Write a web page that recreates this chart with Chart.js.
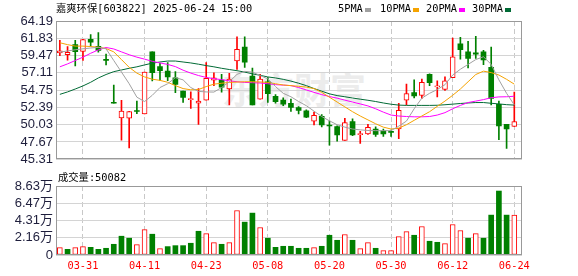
<!DOCTYPE html>
<html><head><meta charset="utf-8">
<script src="https://cdn.jsdelivr.net/npm/chart.js@4.4.1/dist/chart.umd.min.js"></script>
<style>
html,body{margin:0;padding:0;background:#fff;}
#wrap{position:relative;width:578px;height:276px;overflow:hidden;background:#fff;
 font-family:"DejaVu Sans Mono","Noto Sans CJK SC",monospace;}
canvas{position:absolute;left:0;}
.t{position:absolute;white-space:pre;font-size:10.3px;line-height:12px;color:#000;}
.sw{position:absolute;width:6px;height:4px;}
#wm{position:absolute;left:222px;top:68px;font-family:"Noto Sans CJK SC";font-weight:bold;font-size:36px;line-height:40px;color:#ececec;white-space:pre;}
</style></head><body>
<div id="wrap">
<div id="wm">东方财富</div>
<canvas id="k" width="578" height="170" style="top:0"></canvas>
<canvas id="v" width="578" height="106" style="top:170px"></canvas>
<div class="t" style="left:56px;top:2px">嘉爽环保[603822] 2025-06-24 15:00</div>
<div class="t" style="left:338px;top:2px">5PMA</div><div class="sw" style="left:365px;top:8px;background:#a0a0a0"></div>
<div class="t" style="left:380px;top:2px">10PMA</div><div class="sw" style="left:413px;top:8px;background:#f5a300"></div>
<div class="t" style="left:426px;top:2px">20PMA</div><div class="sw" style="left:459px;top:8px;background:#ff00ff"></div>
<div class="t" style="left:472px;top:2px">30PMA</div><div class="sw" style="left:505px;top:8px;background:#006a35"></div>
<div class="t" id="vt" style="left:58px;top:171px"></div>
</div>
<script>
const dates = ['03-26','03-27','03-28','03-31','04-01','04-02','04-03','04-07','04-08','04-09','04-10','04-11','04-14','04-15','04-16','04-17','04-18','04-21','04-22','04-23','04-24','04-25','04-28','04-29','04-30','05-06','05-07','05-08','05-09','05-12','05-13','05-14','05-15','05-16','05-19','05-20','05-21','05-22','05-23','05-26','05-27','05-28','05-29','05-30','06-03','06-04','06-05','06-06','06-09','06-10','06-11','06-12','06-13','06-16','06-17','06-18','06-19','06-20','06-23','06-24'];
const openP  = [59.84,59.58,60.96,60.04,61.69,60.72,58.96,53.03,50.94,50.92, 51.89,51.50,59.97,57.97,57.36,56.44,54.61,53.44,52.95,53.36, 56.11,56.11,54.92,58.75,60.63,56.68,53.51,55.89,53.91,53.38, 52.95,52.37,51.93,50.52,51.18,49.89,49.78,47.89,50.44,48.66, 48.77,49.43,49.20,49.01,49.43,53.38,54.40,54.04,56.90,55.19, 54.83,56.45,61.07,59.97,59.84,59.97,57.86,52.82,50.09,49.78];
const highP  = [61.55,60.70,61.55,61.69,62.35,62.61,59.68,55.45,53.36,51.84, 53.25,57.20,59.97,58.42,58.52,57.27,54.61,54.50,54.96,58.52, 57.11,56.90,57.03,62.04,62.04,57.77,56.90,56.45,54.13,53.69, 53.51,52.50,52.06,51.76,51.41,50.52,49.86,50.88,50.84,49.13, 50.09,49.73,49.43,49.30,52.95,55.58,56.15,56.24,56.98,56.02, 56.55,61.86,61.95,61.42,62.08,60.20,60.63,53.25,50.09,54.48];
const lowP   = [59.45,58.85,58.06,58.79,60.76,59.93,58.19,52.95,47.91,46.86, 51.54,51.50,56.02,56.08,56.04,54.40,53.05,52.26,50.06,53.36, 55.36,54.48,52.72,57.56,57.86,52.72,53.51,53.08,52.95,52.63, 51.84,51.50,50.97,50.00,49.73,47.23,47.76,47.89,48.51,47.45, 48.68,48.41,48.41,48.41,48.11,52.72,53.69,53.61,55.36,53.82, 54.70,56.45,58.96,57.77,59.09,58.22,52.72,47.98,46.79,49.78];
const closeP = [60.10,59.91,60.01,61.66,61.29,60.17,58.79,52.95,51.87,51.80, 51.83,57.20,57.14,57.40,56.55,55.52,53.74,53.47,53.25,56.37, 56.41,55.14,56.24,60.33,58.56,52.72,56.24,54.27,53.16,52.82, 52.37,51.97,51.05,51.31,50.00,49.85,48.64,50.31,48.64,48.70, 49.65,48.68,48.77,48.97,51.97,54.27,53.95,55.82,55.75,55.23, 56.02,59.31,60.28,59.09,59.67,58.88,53.61,49.86,49.43,50.44];
const volumes = [9200,7100,9200,10500,9600,7100,8400,13400,23500,21000, 13000,31800,26000,8000,10500,11700,11700,14700,29700,26800, 15500,13400,15500,55700,41100,52400,34400,21000,9600,10900, 10900,8400,8400,9200,10900,24700,18400,25600,18400,8000, 15500,8400,5400,5400,23000,29300,24700,35600,17200,15900, 14200,38100,30600,21000,26800,21000,49900,80000,49900,50082];
const ma5  = [59.93,60.10,60.26,60.39,60.50,60.59,60.39,58.79,57.21,55.62, 53.78,53.19,54.04,55.10,55.62,56.45,56.15,55.10,54.57,54.50, 54.48,55.10,55.89,56.90,57.31,57.21,56.74,56.28,55.23,54.31, 53.84,53.19,52.62,51.87,51.14,50.55,50.02,49.69,49.43,49.32, 49.23,49.21,49.21,49.21,49.82,50.52,52.20,53.65,54.31,54.83, 55.49,56.81,57.60,58.26,58.92,59.31,58.26,56.15,54.31,52.72];
const ma10 = [61.22,60.96,60.76,60.76,60.70,60.61,60.43,59.97,58.92,57.86, 57.07,56.55,56.24,56.08,55.82,55.36,54.96,54.79,54.83,55.23, 55.56,55.69,55.80,55.85,55.89,55.89,55.86,55.80,55.62,55.45, 55.36,55.27,55.16,54.96,54.44,53.78,53.12,52.46,51.80,51.21, 50.68,50.15,49.69,49.43,49.56,50.02,50.62,51.21,51.80,52.53, 53.25,54.04,54.90,55.89,56.88,57.34,57.14,56.81,56.22,55.56];
const ma20 = [57.93,58.33,58.79,59.25,59.78,60.24,60.57,60.37,59.97,59.58, 59.25,58.98,58.68,58.46,58.26,57.96,57.47,57.07,56.74,56.48, 56.31,56.18,56.02,55.89,55.80,55.76,55.72,55.62,55.49,55.43, 55.36,55.10,54.77,54.44,54.13,53.87,53.65,53.38,53.12,52.86, 52.59,52.20,51.74,51.34,51.21,51.14,51.10,51.10,51.14,51.34, 51.67,52.20,52.66,53.05,53.25,53.45,53.71,53.82,53.84,53.91];
const ma30 = [54.17,54.50,54.90,55.32,55.82,56.41,56.88,57.27,57.50,57.73, 57.93,58.19,58.43,58.59,58.72,58.72,58.59,58.46,58.29,58.10, 57.93,57.73,57.56,57.40,57.21,56.97,56.77,56.55,56.41,56.22, 55.98,55.69,55.36,54.96,54.60,54.24,54.00,53.84,53.67,53.51, 53.36,53.19,52.99,52.82,52.70,52.66,52.66,52.66,52.66,52.68, 52.75,52.83,52.92,52.99,53.05,53.05,52.95,52.86,52.76,52.70];
const priceTicks = [45.31,47.67,50.03,52.39,54.75,57.11,59.47,61.83,64.19];
const volTickValues = [0,21575,43150,64725,86300];
const volTickLabels = ['0','2.16万','4.31万','6.47万','8.63万'];
const dateTickLabels = ['03-31','04-11','04-23','05-08','05-20','05-30','06-12','06-24'];

const RED = '#ff0000', GREEN = '#008000';
const up = openP.map((o,i) => closeP[i] >= o);
const volUp = closeP.map((c,i) => i === 0 ? c >= openP[0] : c >= closeP[i-1]);
const dateTickIdx = dateTickLabels.map(d => dates.indexOf(d));
document.getElementById('vt').textContent = '成交量:' + volumes[volumes.length-1];

const framePlugin = {
  id: 'frame',
  afterDraw(chart) {
    const {ctx, chartArea: a} = chart;
    ctx.save();
    ctx.setLineDash([]);
    ctx.strokeStyle = '#999';
    ctx.lineWidth = 1;
    const x0 = Math.round(a.left) + 0.5, x1 = Math.round(a.right) - 0.5;
    const y0 = Math.round(a.top) + 0.5, y1 = Math.round(a.bottom) - 0.5;
    ctx.strokeRect(x0, y0, x1 - x0, y1 - y0);
    ctx.restore();
  }
};

function xScale(showLabels) {
  return {
    type: 'linear', min: -0.5, max: 60.0, offset: false,
    afterBuildTicks(s) { s.ticks = dateTickIdx.map(v => ({value: v})); },
    ticks: {
      display: showLabels, autoSkip: false, maxRotation: 0, minRotation: 0,
      font: {family: '"DejaVu Sans Mono"', size: 10.3}, color: RED, padding: 5,
      callback: v => dates[v]
    },
    grid: {color: '#c8c8c8', lineWidth: 1, drawTicks: false, offset: false},
    border: {display: false, dash: [5, 3]},
    afterFit(s) { s.height = showLabels ? 21 : 0; }
  };
}

const lineDs = (arr, color) => ({
  type: 'line', data: arr.map((v,i) => ({x: i, y: v})), borderColor: color,
  borderWidth: 1, pointRadius: 0, fill: false, tension: 0, order: 1
});

new Chart(document.getElementById('k'), {
  type: 'bar',
  data: {
    datasets: [
      lineDs(ma5, '#a0a0a0'),
      lineDs(ma10, '#f5a300'),
      lineDs(ma20, '#ff00ff'),
      lineDs(ma30, '#006a35'),
      {
        data: dates.map((d,i) => ({x: i, y: [openP[i], closeP[i]]})),
        backgroundColor: up.map(u => u ? '#ffffff' : GREEN),
        borderColor: up.map(u => u ? RED : GREEN),
        borderWidth: up.map(u => u ? 1 : 0),
        borderSkipped: false, barThickness: 5, minBarLength: 1, grouped: false, order: 2
      },
      {
        data: dates.map((d,i) => ({x: i, y: [lowP[i], highP[i]]})),
        backgroundColor: up.map(u => u ? RED : GREEN),
        borderWidth: 0, barThickness: 1, grouped: false, order: 3
      }
    ]
  },
  options: {
    responsive: false, animation: false, devicePixelRatio: 1,
    layout: {padding: {left: 0, right: 56, top: 21, bottom: 6}},
    plugins: {legend: {display: false}, tooltip: {enabled: false}},
    scales: {
      x: xScale(false),
      y: {
        type: 'linear', min: priceTicks[0], max: priceTicks[priceTicks.length-1],
        afterBuildTicks(s) { s.ticks = priceTicks.map(v => ({value: v})); },
        ticks: {font: {family: '"Liberation Sans"', size: 13}, color: '#1e1e3c', padding: 3,
                autoSkip: false, callback: v => v.toFixed(2)},
        grid: {color: '#d4d4d4', drawTicks: false},
        border: {display: false},
        afterFit(s) { s.width = 56; }
      }
    }
  },
  plugins: [framePlugin]
});

new Chart(document.getElementById('v'), {
  type: 'bar',
  data: {
    datasets: [{
      data: volumes.map((v,i) => ({x: i, y: v})),
      backgroundColor: volUp.map(u => u ? '#ffffff' : GREEN),
      borderColor: volUp.map(u => u ? RED : GREEN),
      borderWidth: volUp.map(u => u ? 1 : 0),
      borderSkipped: false, barThickness: 5, grouped: false
    }]
  },
  options: {
    responsive: false, animation: false, devicePixelRatio: 1,
    layout: {padding: {left: 0, right: 56, top: 16, bottom: 0}},
    plugins: {legend: {display: false}, tooltip: {enabled: false}},
    scales: {
      x: xScale(true),
      y: {
        type: 'linear', min: 0, max: volTickValues[volTickValues.length-1],
        afterBuildTicks(s) { s.ticks = volTickValues.map(v => ({value: v})); },
        ticks: {font: {family: '"Liberation Sans", "Noto Sans CJK SC"', size: 13}, color: '#1e1e3c', padding: 3,
                autoSkip: false, callback: (v, i) => volTickLabels[i]},
        grid: {color: '#d4d4d4', drawTicks: false},
        border: {display: false},
        afterFit(s) { s.width = 56; }
      }
    }
  },
  plugins: [framePlugin]
});
</script>
</body></html>
